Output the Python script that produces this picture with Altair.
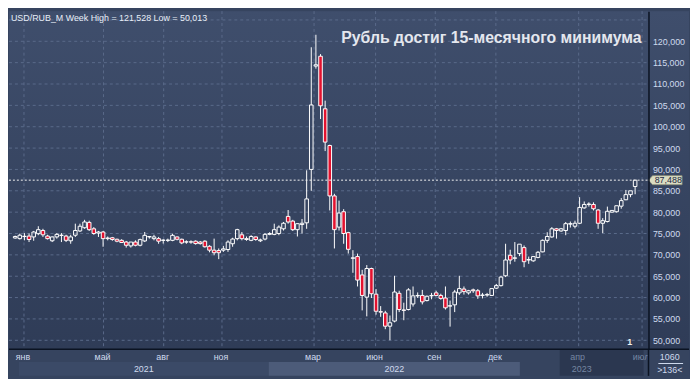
import altair as alt
import pandas as pd

# ---------------- data (weekly USD/RUB candles, thousands) ----------------
opens = [73.95, 73.8, 74.3, 74.4, 74.2, 74.96, 75.7, 74.4, 73.3, 74.2, 74.6, 74.4, 73.3, 74.6, 75.6, 76.35, 77.6,
         76.1, 75.1, 75.35, 73.95, 74.0, 73.65, 73.4, 73.0, 72.1, 73.0, 72.25, 73.26, 74.2, 73.8, 73.8, 73.4,
         73.4, 73.4, 74.2, 73.65, 73.0, 73.05, 73.2, 73.0, 73.2, 72.0, 71.1, 71.0, 71.1, 71.25, 72.6, 73.8,
         74.7, 73.8, 73.4, 74.2, 73.3, 73.7, 74.8, 74.8, 75.0, 76.1, 79.0, 77.9, 75.9, 77.1,
         77.5, 90.0, 114.2, 116.5, 104.2, 95.6,
         83.8, 76.5, 80.1, 75.2, 69.2, 69.6, 65.3, 60.1, 66.8, 60.8, 56.7, 56.4, 53.3, 54.5, 61.0, 57.1, 57.2,
         58.5, 60.4, 60.5, 59.3, 60.4, 61.1, 60.5, 59.9, 58.0, 58.3, 61.1, 62.0, 61.1, 61.8, 61.6, 60.5, 60.6, 60.5,
         62.2, 62.8, 65.1, 69.9, 69.2, 70.3, 71.7, 68.8, 68.6, 69.4, 70.7, 73.4, 74.2, 76.1, 75.6, 75.7, 77.2,
         76.7, 77.4, 81.0, 81.8, 81.8, 80.5, 77.4, 77.8, 80.0, 80.1, 81.4, 82.9, 84.1, 86.0]
highs = [74.5, 74.96, 75.1, 75.0, 75.6, 76.7, 76.1, 74.7, 74.3, 75.1, 75.1, 74.7, 74.7, 77.3, 77.3, 78.2, 78.0,
         76.5, 75.6, 75.6, 74.3, 74.2, 73.8, 73.65, 73.26, 73.0, 73.4, 73.8, 75.35, 74.4, 74.7, 74.2, 73.65,
         73.8, 74.96, 74.3, 73.8, 73.4, 73.4, 73.4, 73.26, 73.4, 72.25, 73.8, 71.5, 72.1, 73.4, 74.0, 76.1,
         75.35, 74.3, 74.6, 74.3, 73.8, 75.1, 75.3, 77.3, 76.9, 77.7, 80.5, 78.2, 77.4, 78.4,
         89.8, 118.6, 121.528, 117.0, 106.1, 95.8,
         84.3, 82.7, 80.7, 75.4, 71.1, 70.3, 66.5, 67.6, 67.0, 62.0, 58.0, 56.9, 55.8, 65.1, 61.6, 58.8, 62.2,
         62.6, 61.2, 61.8, 60.5, 61.1, 61.6, 60.9, 62.6, 59.3, 61.8, 65.1, 62.6, 61.8, 62.1, 62.0, 61.1, 61.1, 62.1,
         63.2, 65.1, 72.6, 71.2, 73.0, 72.5, 72.2, 69.6, 69.7, 70.9, 73.6, 75.3, 76.5, 76.3, 76.3, 77.7, 77.8,
         78.0, 83.5, 82.5, 82.3, 82.3, 80.7, 78.6, 81.3, 80.4, 81.5, 83.3, 85.2, 85.0, 87.5]
lows = [73.8, 73.6, 73.4, 73.0, 73.3, 74.6, 74.2, 73.6, 73.0, 73.8, 73.0, 73.0, 72.6, 74.2, 75.35, 76.1, 75.6,
        74.7, 74.2, 71.9, 73.4, 73.3, 72.95, 72.8, 71.7, 71.7, 72.0, 72.0, 73.0, 73.8, 73.4, 72.6, 72.64,
        73.0, 73.2, 73.4, 72.5, 72.6, 72.6, 72.4, 72.4, 71.7, 70.6, 69.9, 69.0, 70.7, 70.7, 71.9, 73.4,
        73.4, 73.3, 73.2, 73.3, 73.0, 73.4, 74.6, 74.6, 74.6, 75.7, 77.3, 75.6, 74.3, 75.0,
        76.1, 85.0, 113.6, 101.8, 94.3, 80.4,
        71.5, 75.7, 72.6, 70.3, 65.8, 62.6, 57.0, 55.6, 59.9, 56.0, 55.5, 52.6, 50.013, 54.2, 56.6, 54.7, 57.0,
        57.9, 59.9, 58.4, 59.1, 59.6, 60.3, 59.5, 57.2, 53.2, 56.6, 60.6, 60.7, 60.7, 61.1, 59.7, 59.8, 60.2, 60.4,
        62.0, 62.6, 64.8, 67.8, 68.4, 69.7, 67.1, 67.9, 68.4, 69.2, 70.6, 72.8, 74.0, 73.8, 75.4, 74.6, 76.4,
        76.2, 77.2, 80.8, 81.3, 80.4, 76.1, 75.1, 77.6, 79.9, 79.9, 80.8, 82.8, 83.5, 84.2]
closes = [74.3, 74.6, 74.35, 73.6, 75.35, 75.9, 74.7, 73.8, 74.2, 74.8, 74.55, 73.4, 74.2, 75.7, 76.7, 77.7, 75.9,
          75.0, 75.35, 73.8, 73.8, 73.6, 73.2, 72.9, 72.25, 73.0, 72.25, 73.57, 74.57, 74.3, 74.2, 73.2, 73.45,
          73.45, 74.57, 73.65, 72.8, 73.05, 73.0, 72.64, 72.64, 71.9, 71.1, 70.5, 70.5, 71.4, 73.0, 73.7, 75.9,
          73.8, 73.6, 74.3, 73.6, 73.5, 74.8, 75.0, 75.9, 76.5, 77.4, 77.7, 75.9, 77.3, 77.4,
          83.1, 105.1, 114.5, 104.9, 96.4, 83.8,
          75.9, 79.8, 75.0, 71.3, 69.3, 64.1, 60.5, 66.8, 60.9, 56.8, 56.6, 53.3, 54.1, 61.3, 57.2, 57.0, 61.8,
          60.4, 60.5, 59.0, 60.3, 60.5, 60.5, 59.8, 57.6, 58.1, 61.3, 62.1, 61.4, 61.6, 61.6, 60.4, 60.6, 60.7, 62.1,
          62.8, 64.8, 68.8, 68.8, 69.3, 72.5, 68.4, 68.9, 69.6, 70.6, 73.4, 74.3, 76.1, 75.7, 76.1, 77.3, 77.3,
          77.4, 81.1, 81.8, 81.9, 80.8, 77.4, 78.0, 80.2, 80.4, 81.5, 82.7, 84.1, 85.0, 87.488]

month_labels = ["янв", "май", "авг", "ноя", "мар", "июн", "сен", "дек", "апр", "июл"]
month_idx = [1.9, 19.1, 32.1, 44.7, 64.6, 77.9, 90.8, 103.9, 121.8, 135.5]
year_labels = ["2021", "2022", "2023"]
year_start = [0.8, 54.8, 109.1]
year_end = [54.8, 109.1, 135.82]
dim_from = 117.7
y_ticks = list(range(50, 125, 5))
grid_levels = list(range(50, 130, 5))
last_close = 87.488
header = "USD/RUB_M Week High = 121,528 Low = 50,013"
title = "Рубль достиг 15-месячного минимума"
bar_count = "1060"
bar_visible = ">136<"

# ---------------- styling ----------------
FONT = "Liberation Sans"
NAVY = "#36445f"
GRID = "#5a6a8a"
LAB = "#cfdaee"
DIM = "#7686a2"
RED = "#e3122f"
W, H = 647, 342
BAND_B = 369
FULL_W = 688

n = len(opens)
candles = pd.DataFrame({"i": list(range(n)), "open": opens, "high": highs,
                        "low": lows, "close": closes})
months = pd.DataFrame({"idx": month_idx, "label": month_labels})
years = pd.DataFrame({"start": year_start, "end": year_end, "label": year_labels})
levels = pd.DataFrame({"v": grid_levels})
last = pd.DataFrame({"v": [last_close], "t": [f"{int(round(last_close * 1000)):,}"]})
one = pd.DataFrame({"a": [0]})
dimdf = pd.DataFrame({"s": [dim_from], "e": [135.82]})

xs = alt.Scale(domain=[-0.27, 135.82], nice=False, zero=False)
ys = alt.Scale(domain=[47.92, 127.06], nice=False, zero=False)
yaxis = alt.Axis(orient="right", values=y_ticks, labelExpr="format(datum.value*1000, ',')",
                 grid=False, ticks=False, domain=True, domainColor="#0b1322", domainWidth=1.5,
                 labelColor=LAB, labelFont=FONT, labelFontSize=9, labelPadding=4,
                 labelFlush=False, labelOverlap=False, title=None, zindex=1)


def X(f):
    return alt.X(f, scale=xs, axis=None)


def Y(f):
    return alt.Y(f, scale=ys, axis=yaxis)


bg = alt.Chart(one).mark_rect(fill={
    "gradient": "linear", "x1": 0, "x2": 0, "y1": 0, "y2": 1,
    "stops": [{"offset": 0, "color": "#3f4e6c"}, {"offset": 1, "color": "#2f3c57"}]}
).encode(x=alt.value(0), x2=alt.value(FULL_W), y=alt.value(0), y2=alt.value(H))

band = alt.Chart(one).mark_rect(fill=NAVY).encode(
    x=alt.value(0), x2=alt.value(FULL_W), y=alt.value(H), y2=alt.value(BAND_B))

yearband = alt.Chart(years).mark_rect().encode(
    x=X("start:Q"), x2="end:Q", y=alt.value(355), y2=alt.value(BAND_B),
    color=alt.Color("label:N", scale=alt.Scale(domain=year_labels,
                                               range=["#3b4a67", "#4c5b79", "#36445f"]), legend=None))

dimband = alt.Chart(dimdf).mark_rect(fill="#2b3750").encode(
    x=X("s:Q"), x2="e:Q", y=alt.value(H), y2=alt.value(BAND_B))

hgrid = alt.Chart(levels).mark_rule(color=GRID, strokeDash=[3, 3], strokeWidth=1).encode(
    y=Y("v:Q"), x=alt.value(0), x2=alt.value(W))
vgrid = alt.Chart(months).mark_rule(color=GRID, strokeDash=[3, 3], strokeWidth=1).encode(
    x=X("idx:Q"), y=alt.value(0), y2=alt.value(H))

base = alt.Chart(candles).transform_calculate(
    top="max(datum.open, datum.close)", bot="min(datum.open, datum.close)")
wick_up = base.mark_rule(color="white", strokeWidth=1).encode(
    x=X("i:Q"), y=Y("high:Q"), y2="top:Q")
wick_dn = base.mark_rule(color="white", strokeWidth=1).encode(
    x=X("i:Q"), y=Y("bot:Q"), y2="low:Q")
body = base.mark_bar(width=3.6, stroke="white", strokeWidth=1).encode(
    x=X("i:Q"), y=Y("open:Q"), y2="close:Q",
    fill=alt.condition("datum.close < datum.open", alt.value(RED), alt.value("transparent")))

lastline = alt.Chart(last).mark_rule(color="#f2f2f2", strokeDash=[2, 2], strokeWidth=1).encode(
    y=Y("v:Q"), x=alt.value(0), x2=alt.value(W))

TAG = "M-1,0L-0.76,-0.27L1,-0.27L1,0.27L-0.76,0.27Z"
tag = alt.Chart(last).mark_point(shape=TAG, size=1156, filled=True, fill="#dadcc2",
                                 fillOpacity=1, stroke="#8d8f78", strokeWidth=0.8, opacity=1).encode(
    y=Y("v:Q"), x=alt.value(664))
tagtext = alt.Chart(last).mark_text(fontSize=9, font=FONT, color="#1c2742",
                                    align="center", baseline="middle").encode(
    y=Y("v:Q"), x=alt.value(667), text="t:N")

month_text = alt.Chart(months).mark_text(fontSize=9, font=FONT, baseline="middle", dx=-1).encode(
    x=X("idx:Q"), y=alt.value(349.5), text="label:N",
    color=alt.condition(f"datum.idx >= {dim_from}", alt.value(DIM), alt.value(LAB)))
year_text = alt.Chart(years).transform_calculate(mid="(datum.start + datum.end) / 2").mark_text(
    fontSize=9, font=FONT, baseline="middle").encode(
    x=X("mid:Q"), y=alt.value(362), text="label:N",
    color=alt.condition(f"datum.mid >= {dim_from}", alt.value(DIM), alt.value(LAB)))

brbox = alt.Chart(one).mark_rect(fill=NAVY).encode(
    x=alt.value(W), x2=alt.value(FULL_W), y=alt.value(H), y2=alt.value(BAND_B))
sep_h = alt.Chart(one).mark_rule(color="#0b1322", strokeWidth=1.5).encode(
    x=alt.value(0), x2=alt.value(FULL_W), y=alt.value(H))
sep_v = alt.Chart(one).mark_rule(color="#0b1322", strokeWidth=1.5).encode(
    x=alt.value(W), y=alt.value(H), y2=alt.value(BAND_B))
cnt1 = alt.Chart(one).mark_text(text=bar_count, fontSize=9, font=FONT, color=LAB,
                                baseline="middle").encode(x=alt.value(668.5), y=alt.value(349.5))
cnt_line = alt.Chart(one).mark_rule(color=LAB, strokeWidth=1).encode(
    x=alt.value(657), x2=alt.value(682), y=alt.value(356.5))
cnt2 = alt.Chart(one).mark_text(text=bar_visible, fontSize=9, font=FONT, color=LAB,
                                baseline="middle").encode(x=alt.value(668.5), y=alt.value(363.5))

head = alt.Chart(one).mark_text(text=header, fontSize=9, font=FONT, color="#e8eef8",
                                align="left", baseline="middle").encode(x=alt.value(2), y=alt.value(7))
ttl = alt.Chart(one).mark_text(text=title, fontSize=16, fontWeight="bold", font=FONT,
                               color="#e4e7ee", align="right", baseline="middle").encode(
    x=alt.value(640), y=alt.value(27))
one_txt = alt.Chart(one).mark_text(text="1", fontSize=9, fontWeight="bold", font=FONT,
                                   color="#f0f0f0", baseline="middle").encode(
    x=alt.value(628), y=alt.value(335))

chart = alt.layer(
    bg, band, yearband, dimband, hgrid, vgrid, wick_up, wick_dn, body, lastline,
    month_text, year_text, brbox, sep_h, sep_v, tag, tagtext, cnt1, cnt_line, cnt2,
    head, ttl, one_txt
).properties(width=W, height=H, padding=0).configure(background=NAVY).configure_view(stroke=None)

chart.save("out.html", embed_options={"renderer": "svg", "actions": False})
